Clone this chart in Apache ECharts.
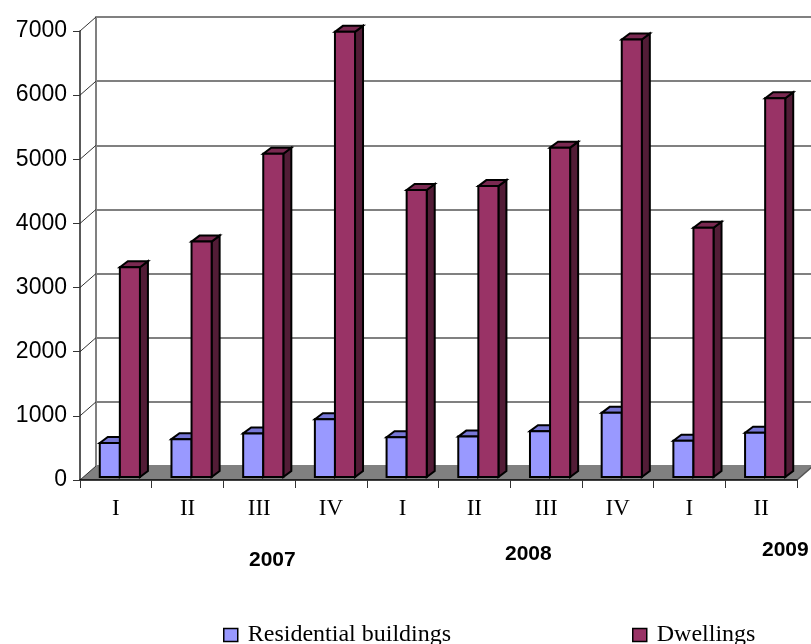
<!DOCTYPE html>
<html>
<head>
<meta charset="utf-8">
<script src="https://cdn.jsdelivr.net/npm/echarts/dist/echarts.min.js"></script>
<style>
html,body{margin:0;padding:0;background:#fff;}
#chart{width:811px;height:644px;}
</style>
</head>
<body>
<div id="chart"></div>
<script>
// ---- data ----
var quarters = ['I','II','III','IV','I','II','III','IV','I','II'];
var years = ['2007','2008','2009'];
var residential = [530, 590, 680, 900, 620, 630, 715, 1000, 565, 690];
var dwellings = [3270, 3670, 5040, 6940, 4475, 4535, 5135, 6820, 3885, 5905];
var yTicks = [0, 1000, 2000, 3000, 4000, 5000, 6000, 7000];
var seriesNames = ['Residential buildings', 'Dwellings'];

// ---- style ----
var DX = 16, DY = -14;       // wall depth
var BDX = 8, BDY = -6;       // bar depth
var palette = [
  {front:'#9999FF', top:'#7777D6', side:'#5C5C99'},
  {front:'#993366', top:'#7A2951', side:'#521C36'}
];

function barRender(si){
  return function(params, api){
    var idx = api.value(0), val = api.value(1);
    var base = api.coord([idx, 0]);
    var topP = api.coord([idx, val]);
    var catW = api.size([1, 0])[0];
    var bw = catW * 0.28;
    var shift = 4, lift = -3;
    var x0 = si === 0 ? base[0] + shift - bw : base[0] + shift;
    var x1 = x0 + bw;
    var yB = base[1] + lift, yT = topP[1] + lift;
    var c = palette[si];
    var st = {stroke:'#000', lineWidth:2, lineJoin:'miter'};
    return {
      type:'group',
      children:[
        {type:'polygon', shape:{points:[[x1,yT],[x1+BDX,yT+BDY],[x1+BDX,yB+BDY],[x1,yB]]},
          style:Object.assign({fill:c.side}, st)},
        {type:'polygon', shape:{points:[[x0,yT],[x0+BDX,yT+BDY],[x1+BDX,yT+BDY],[x1,yT]]},
          style:Object.assign({fill:c.top}, st)},
        {type:'rect', shape:{x:x0, y:yT, width:bw, height:yB-yT},
          style:Object.assign({fill:c.front}, st)}
      ]
    };
  };
}

var chart = echarts.init(document.getElementById('chart'), null, {renderer:'canvas'});

var legendText = {color:'#000', fontFamily:'Liberation Serif', fontSize:24, padding:[0,0,0,5]};
var option = {
  animation:false,
  backgroundColor:'#fff',
  grid:[
    {left:80, right:14, top:31, bottom:164, containLabel:false},
    {left:96, right:0, top:17, bottom:178, containLabel:false}
  ],
  xAxis:[
    {type:'category', gridIndex:0, data:quarters, z:5,
      axisLine:{show:true, lineStyle:{color:'#000', width:1.5}},
      axisTick:{show:true, alignWithLabel:false, length:8, lineStyle:{color:'#333', width:1}},
      axisLabel:{color:'#000', fontFamily:'Liberation Serif', fontSize:23, margin:17, interval:0},
      splitLine:{show:false}},
    {type:'value', gridIndex:1, show:false, min:0, max:1}
  ],
  yAxis:[
    {type:'value', gridIndex:0, min:0, max:7000, interval:1000, z:5,
      axisLine:{show:true, lineStyle:{color:'#222', width:1.5}},
      axisTick:{show:true, length:7, lineStyle:{color:'#333', width:1}},
      axisLabel:{color:'#000', fontFamily:'Liberation Sans', fontSize:23, margin:13,
        formatter:function(v){return String(v);}},
      splitLine:{show:false}},
    {type:'value', gridIndex:1, min:0, max:7000, interval:1000,
      axisLine:{show:true, lineStyle:{color:'#808080', width:2}},
      axisTick:{show:false}, axisLabel:{show:false},
      splitLine:{show:true, lineStyle:{color:'#808080', width:2}}}
  ],
  legend:[
    {data:[seriesNames[0]], left:218, top:618, icon:'rect', itemWidth:14, itemHeight:13,
      itemStyle:{borderColor:'#000', borderWidth:1.5}, textStyle:legendText},
    {data:[seriesNames[1]], left:627, top:618, icon:'rect', itemWidth:14, itemHeight:13,
      itemStyle:{borderColor:'#000', borderWidth:1.5}, textStyle:legendText}
  ],
  graphic:[
    {type:'text', left:249, top:550, style:{text:years[0], fill:'#000', font:'bold 21px "Liberation Sans"'}},
    {type:'text', left:505, top:544, style:{text:years[1], fill:'#000', font:'bold 21px "Liberation Sans"'}},
    {type:'text', left:762, top:540, style:{text:years[2], fill:'#000', font:'bold 21px "Liberation Sans"'}}
  ],
  series:[
    {type:'custom', name:'floor', xAxisIndex:0, yAxisIndex:0, z:1, silent:true,
      data:[[0,0]],
      renderItem:function(params, api){
        var cs = params.coordSys;
        var yb = cs.y + cs.height, xl = cs.x, xr = cs.x + cs.width;
        return {type:'group', children:[
          {type:'polygon', shape:{points:[[xl,yb],[xl+DX,yb+DY],[xr+DX,yb+DY],[xr,yb]]},
            style:{fill:'#808080', stroke:null}},
          {type:'line', shape:{x1:xr, y1:yb, x2:xr+DX, y2:yb+DY}, style:{stroke:'#555', lineWidth:1.5}}
        ]};
      }},
    {type:'custom', name:'connectors', xAxisIndex:0, yAxisIndex:0, z:1, silent:true,
      data:yTicks.map(function(v){return [0, v];}),
      encode:{x:0, y:1},
      renderItem:function(params, api){
        var cs = params.coordSys;
        var p = api.coord([0, api.value(1)]);
        var x = cs.x;
        return {type:'line', shape:{x1:x, y1:p[1], x2:x+DX, y2:p[1]+DY},
          style:{stroke:'#333', lineWidth:1}};
      }},
    {type:'custom', name:seriesNames[0], xAxisIndex:0, yAxisIndex:0, z:3,
      itemStyle:{color:palette[0].front},
      data:residential.map(function(v,i){return [i,v];}),
      encode:{x:0, y:1},
      renderItem:barRender(0)},
    {type:'custom', name:seriesNames[1], xAxisIndex:0, yAxisIndex:0, z:4,
      itemStyle:{color:palette[1].front},
      data:dwellings.map(function(v,i){return [i,v];}),
      encode:{x:0, y:1},
      renderItem:barRender(1)}
  ]
};
chart.setOption(option);
</script>
</body>
</html>
